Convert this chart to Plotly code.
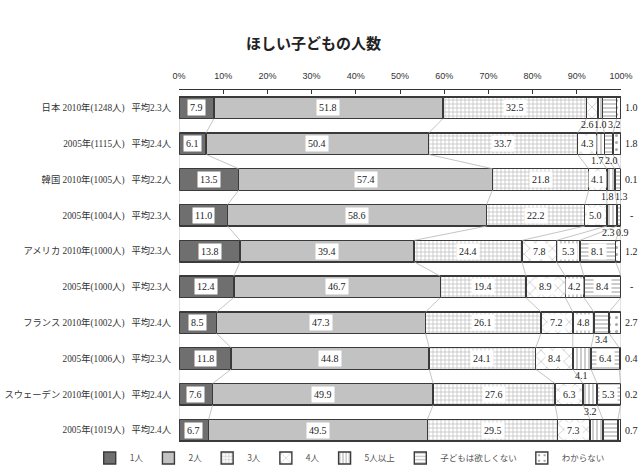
import plotly.graph_objects as go

# ---------------- data ----------------
categories = ["1人", "2人", "3人", "4人", "5人以上", "子どもは欲しくない", "わからない"]
countries = ["日本", "", "韓国", "", "アメリカ", "", "フランス", "", "スウェーデン", ""]
years = ["2010年", "2005年", "2010年", "2005年", "2010年", "2005年", "2010年", "2005年", "2010年", "2005年"]
respondents = [1248, 1115, 1005, 1004, 1000, 1000, 1002, 1006, 1001, 1019]
averages = [2.3, 2.4, 2.2, 2.3, 2.3, 2.3, 2.4, 2.3, 2.4, 2.4]

v_one = [7.9, 6.1, 13.5, 11.0, 13.8, 12.4, 8.5, 11.8, 7.6, 6.7]
v_two = [51.8, 50.4, 57.4, 58.6, 39.4, 46.7, 47.3, 44.8, 49.9, 49.5]
v_three = [32.5, 33.7, 21.8, 22.2, 24.4, 19.4, 26.1, 24.1, 27.6, 29.5]
v_four = [2.6, 4.3, 4.1, 5.0, 7.8, 8.9, 7.2, 8.4, 6.3, 7.3]
v_five = [1.0, 1.7, 1.8, 2.3, 5.3, 4.2, 4.8, 4.1, 3.2, 2.9]
v_none = [3.2, 2.0, 1.3, 0.9, 8.1, 8.4, 3.4, 6.4, 5.3, 3.4]
v_dk = [1.0, 1.8, 0.1, None, 1.2, None, 2.7, 0.4, 0.2, 0.7]

series = [v_one, v_two, v_three, v_four, v_five, v_none, v_dk]

# label placement for segments 1..6 (i=inside box, b=below bar, n=hidden)
placement = ["iiibbb", "iiiibb", "iiiibb", "iiiibb", "iiiiii",
             "iiiiii", "iiiiib", "iiiibi", "iiiibi", "iiiinn"]

# ---------------- style ----------------
SERIF = "Liberation Serif, Noto Sans CJK JP, serif"
JP = "Noto Sans CJK JP, sans-serif"
fills = ["#6f6f6f", "#c2c2c2", "white", "white", "white", "white", "white"]
patterns = [
    dict(shape=""),
    dict(shape=""),
    dict(shape="+", fgcolor="#6a6a6a", bgcolor="white", size=4, solidity=0.3),
    dict(shape="x", fgcolor="#777777", bgcolor="white", size=8, solidity=0.15),
    dict(shape="|", fgcolor="#555555", bgcolor="white", size=4, solidity=0.3),
    dict(shape="-", fgcolor="#555555", bgcolor="white", size=4, solidity=0.3),
    dict(shape=".", fgcolor="#555555", bgcolor="white", size=7, solidity=0.15),
]
BAR_W = 0.6
PX_PER_PCT = 4.42

n = len(years)
ypos = list(range(n))
labels = []
for i in range(n):
    prefix = (countries[i] + "\u00a0") if countries[i] else ""
    labels.append(f"{prefix}{years[i]}({respondents[i]}人)\u00a0\u00a0\u00a0平均{averages[i]}人")

fig = go.Figure()

# connecting lines between consecutive bars
cums = []
for i in range(n):
    c = [0.0]
    for s in series:
        c.append(c[-1] + (s[i] or 0.0))
    cums.append(c)
for i in range(n - 1):
    for k in range(len(cums[i])):
        fig.add_trace(go.Scatter(
            x=[min(cums[i][k], 100), min(cums[i + 1][k], 100)],
            y=[i + BAR_W / 2, i + 1 - BAR_W / 2],
            mode="lines", line=dict(color="#b5b5b5", width=0.8),
            showlegend=False, hoverinfo="skip"))

for j, (name, vals) in enumerate(zip(categories, series)):
    fig.add_trace(go.Bar(
        name=name, y=ypos, x=[v or 0 for v in vals], orientation="h",
        width=BAR_W,
        marker=dict(color=fills[j], pattern=patterns[j],
                    line=dict(color="#3a3a3a", width=1.4)),
    ))

annotations = []
for i in range(n):
    c = cums[i]
    below = []
    for j in range(6):
        v = series[j][i]
        mid = (c[j] + c[j + 1]) / 2
        p = placement[i][j]
        if p == "i":
            annotations.append(dict(
                x=mid, y=i, text=f"{v:.1f}", showarrow=False,
                font=dict(family=SERIF, size=10, color="#222"),
                bgcolor="white", borderpad=2))
        elif p == "b":
            below.append((mid, v))
    if below:
        pxs = [m * PX_PER_PCT for m, _ in below]
        center = sum(pxs) / len(pxs)
        for k, ((m, v), px) in enumerate(zip(below, pxs)):
            target = center + (k - (len(below) - 1) / 2) * 13.5
            annotations.append(dict(
                x=m, y=i, yshift=-17, xshift=target - px,
                text=f"{v:.1f}", showarrow=False,
                font=dict(family=SERIF, size=10, color="#222")))
    dk = v_dk[i]
    annotations.append(dict(
        x=100, y=i, xshift=10, text=("-" if dk is None else f"{dk:.1f}"),
        showarrow=False, font=dict(family=SERIF, size=10, color="#222")))

fig.update_layout(
    width=640, height=467,
    margin=dict(l=179, r=19, t=90, b=19, autoexpand=False),
    paper_bgcolor="white", plot_bgcolor="white",
    barmode="stack",
    title=dict(text="<b>ほしい子どもの人数</b>", x=0.49, xanchor="center",
               y=1 - 44 / 467, yanchor="middle", yref="container",
               font=dict(family=JP, size=15, color="#222")),
    xaxis=dict(range=[0, 100], side="top", tickvals=list(range(0, 101, 10)),
               ticktext=[f"{t}%" for t in range(0, 101, 10)],
               ticks="inside", ticklen=4, tickcolor="#333",
               showline=True, linecolor="#333", linewidth=1,
               showgrid=False, zeroline=False, ticklabelstandoff=6,
               automargin=False,
               tickfont=dict(family="Liberation Sans, sans-serif", size=9, color="#333")),
    yaxis=dict(range=[n - 0.5, -0.5], tickvals=ypos, ticktext=labels,
               showgrid=False, zeroline=False, showline=False, ticks="",
               ticklabelstandoff=7, automargin=False,
               tickfont=dict(family=SERIF, size=9.3, color="#333")),
    legend=dict(orientation="h", x=-0.202, xanchor="left", y=-0.028, yanchor="middle",
                font=dict(family=JP, size=8.5, color="#555"), itemwidth=30,
                traceorder="normal", bgcolor="rgba(0,0,0,0)",
                tracegroupgap=0),
    annotations=annotations,
    showlegend=True,
)

fig.write_html(
    "out.html",
    config={"displayModeBar": False},
    post_script="document.body.style.margin='0';document.body.style.overflow='hidden';",
)
